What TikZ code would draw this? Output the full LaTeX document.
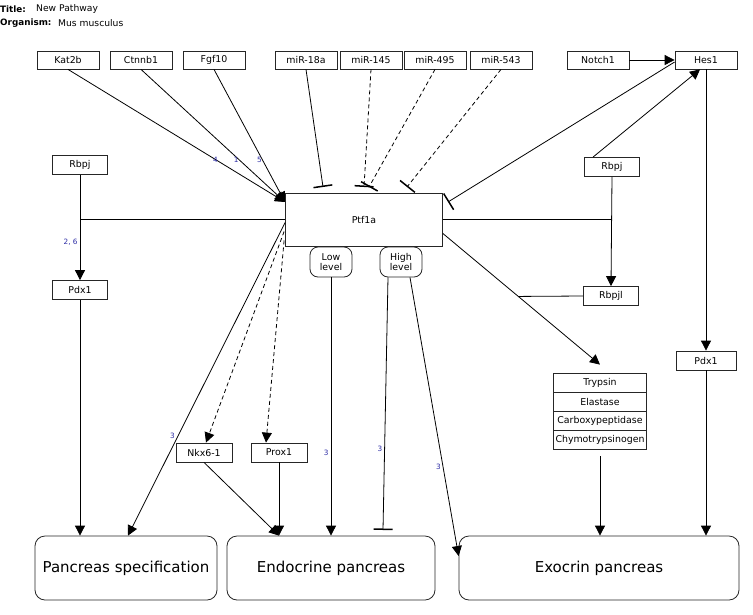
\documentclass[tikz,border=0pt]{standalone}
\usepackage{fontspec}
\setmainfont{DejaVu Sans}
\usepackage{tikz}
\usetikzlibrary{arrows.meta}
\definecolor{lblblue}{RGB}{45,45,165}

\begin{document}
\begin{tikzpicture}[x=1pt, y=-1pt,
		box/.style={draw=black!85, line width=0.8pt, minimum width=62pt, minimum height=18pt, inner sep=0pt, font=\fontsize{9.4}{10}\selectfont},
		level/.style={draw=black!85, line width=0.8pt, rounded corners=8pt, minimum width=42pt, minimum height=30pt, inner sep=0pt, align=center, font=\fontsize{9.4}{10.5}\selectfont},
		tissue/.style={draw=black!85, line width=0.8pt, rounded corners=10pt, minimum height=64pt, inner sep=0pt, font=\fontsize{15}{17}\selectfont},
		act/.style={line width=0.8pt, -{Triangle[length=10pt, width=10pt]}},
		inh/.style={line width=0.8pt, -{Bar[width=19pt, line width=1.5pt]}},
		lbl/.style={font=\fontsize{7.3}{8}\selectfont, text=lblblue, inner sep=1pt},
		dsh/.style={dash pattern=on 4pt off 3pt}]
	\useasboundingbox (0, 0) rectangle (753, 614);

	% header
	\node [anchor=west, inner sep=0pt, font=\fontsize{8.8}{10}\selectfont\bfseries] (ttl) at (0, 9) {Title:};
	\node [anchor=west, inner sep=0pt, font=\fontsize{9.2}{10}\selectfont] (ttlval) at (36, 9) {New Pathway};
	\node [anchor=west, inner sep=0pt, font=\fontsize{8.8}{10}\selectfont\bfseries] (org) at (0, 23) {Organism:};
	\node [anchor=west, inner sep=0pt, font=\fontsize{9.2}{10}\selectfont] (orgval) at (58, 23) {Mus musculus};

	% top row
	\node [box] (kat2b) at (68, 60) {Kat2b};
	\node [box] (ctnnb1) at (141, 60) {Ctnnb1};
	\node [box] (fgf10) at (214, 60) {Fgf10};
	\node [box] (mir18a) at (306, 60) {miR-18a};
	\node [box] (mir145) at (371, 60) {miR-145};
	\node [box] (mir495) at (435, 60) {miR-495};
	\node [box] (mir543) at (501, 60) {miR-543};
	\node [box] (notch1) at (598, 60) {Notch1};
	\node [box] (hes1) at (706, 60) {Hes1};

	% middle
	\node [box, minimum width=55pt, minimum height=19pt] (rbpjl) at (80, 165) {Rbpj};
	\node [box, minimum width=55pt, minimum height=19pt] (pdx1l) at (80, 290) {Pdx1};
	\node [box, minimum width=157pt, minimum height=53pt] (ptf1a) at (364, 219.5) {Ptf1a};
	\node [level] (low) at (331, 262) {Low\\level};
	\node [level] (high) at (401, 262) {High\\level};
	\node [box, minimum width=55pt, minimum height=19pt] (rbpjr) at (612, 167) {Rbpj};
	\node [box, minimum width=55pt, minimum height=19pt] (rbpjlk) at (611, 296) {Rbpjl};
	\node [box, minimum width=60pt, minimum height=19pt] (pdx1r) at (706, 360.5) {Pdx1};

	% enzymes
	\node [box, minimum width=93pt, minimum height=19pt] (tryp) at (600, 382.5) {Trypsin};
	\node [box, minimum width=93pt, minimum height=19pt] (elast) at (600, 401.5) {Elastase};
	\node [box, minimum width=93pt, minimum height=19pt] (carb) at (600, 420.5) {Carboxypeptidase};
	\node [box, minimum width=93pt, minimum height=19pt] (chymo) at (600, 439.5) {Chymotrypsinogen};

	\node [box, minimum width=56pt, minimum height=19pt] (nkx) at (204, 452.5) {Nkx6-1};
	\node [box, minimum width=56pt, minimum height=19pt] (prox) at (279, 452.5) {Prox1};

	% tissues
	\node [tissue, minimum width=182pt] (spec) at (126, 568) {Pancreas specification};
	\node [tissue, minimum width=208pt] (endo) at (331, 568) {Endocrine pancreas};
	\node [tissue, minimum width=280pt] (exo) at (599, 568) {Exocrin pancreas};

	% free ends
	\coordinate (actin) at (285, 202);
	\coordinate (bar18a) at (323, 187);
	\coordinate (bar145) at (364, 187);
	\coordinate (bar495) at (369, 187);
	\coordinate (bar543) at (407, 187);
	\coordinate (barhes) at (448, 202);
	\coordinate (barhigh) at (383, 530);
	\coordinate (j1) at (rbpjl.south |- ptf1a.west);
	\coordinate (j2) at (rbpjr.south |- ptf1a.east);

	% activation into Ptf1a
	\draw [act] (kat2b.south) -- (actin) node [lbl, pos=0.68] {4};
	\draw [act] (ctnnb1.south) -- (actin) node [lbl, pos=0.68, left=-1pt] {1};
	\draw [act] (fgf10.south) -- (actin) node [lbl, pos=0.68, left=-1pt] {5};

	% microRNAs
	\draw [inh] (mir18a.south) -- (bar18a);
	\draw [inh, dsh] (mir145.south) -- (bar145);
	\draw [inh, dsh] (mir495.south) -- (bar495);
	\draw [inh, dsh] (mir543.south) -- (bar543);

	% Notch branch
	\draw [act] (notch1.east) -- (hes1.west);
	\draw [inh] ([yshift=-2pt]hes1.west) -- (barhes);
	\draw [act] ([xshift=-19pt]rbpjr.north) -- ([xshift=-6pt]hes1.south);
	\draw [act] (hes1.south) -- (pdx1r.north);
	\draw [act] (pdx1r.south) -- (pdx1r.south |- exo.north);

	% Rbpj left
	\draw [act] (rbpjl.south) -- (pdx1l.north) node [lbl, pos=0.64, left=1pt] {2, 6};
	\draw [line width=0.8pt] (ptf1a.west) -- (j1);
	\draw [act] (pdx1l.south) -- (pdx1l.south |- spec.north);

	% Rbpj right
	\draw [act] (rbpjr.south) -- (rbpjlk.north);
	\draw [line width=0.8pt] (ptf1a.east) -- (j2);
	\draw [act] ([yshift=-14pt]ptf1a.east) -- ([yshift=8pt]tryp.north) coordinate [pos=0.48] (j3);
	\draw [line width=0.8pt] (rbpjlk.west) -- (j3);
	\draw [act] ([yshift=-7pt]chymo.south) -- (chymo.south |- exo.north);

	% Ptf1a downstream
	\draw [act] ([yshift=-3pt]ptf1a.west) -- ([xshift=2pt]spec.north) node [lbl, pos=0.68, left=2pt] {3};
	\draw [act, dsh] ([shift={(-1,12)}]ptf1a.west) -- ([xshift=2pt]nkx.north);
	\draw [act, dsh] ([shift={(-1,21)}]ptf1a.west) -- ([xshift=-13pt]prox.north);
	\draw [act] (nkx.south) -- (prox.south |- endo.north);
	\draw [act] (prox.south) -- (prox.south |- endo.north);
	\draw [act] (low.south) -- (low.south |- endo.north) node [lbl, pos=0.68, left=1pt] {3};
	\draw [inh] ([xshift=-13pt]high.south) -- (barhigh) node [lbl, pos=0.68, left=1pt] {3};
	\draw [act] ([xshift=9pt]high.south) -- ([yshift=12pt]exo.west) node [lbl, pos=0.68, left=1pt] {3};
\end{tikzpicture}
\end{document}
